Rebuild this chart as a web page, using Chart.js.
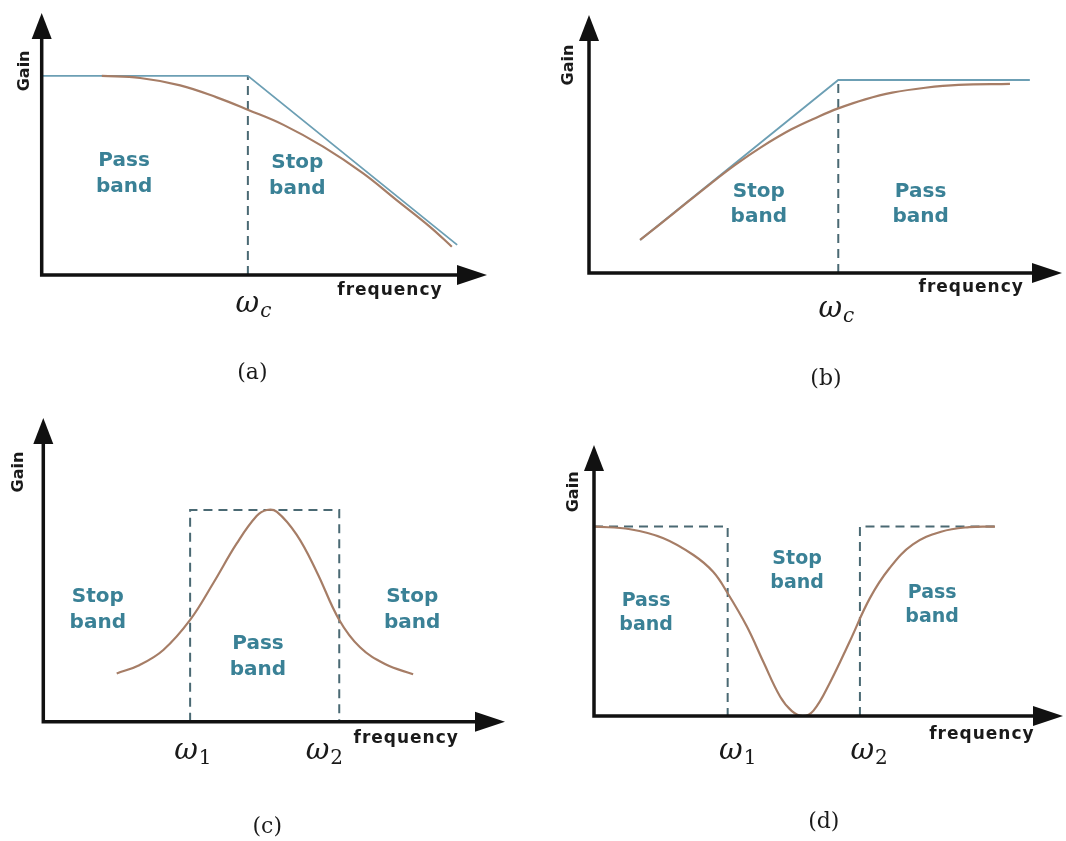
<!DOCTYPE html>
<html>
<head>
<meta charset="utf-8">
<title>Filter responses</title>
<script src="https://cdn.jsdelivr.net/npm/chart.js@4.4.1/dist/chart.umd.min.js"></script>
<style>
  html, body { margin: 0; padding: 0; background: #fff; }
  #wrap { position: relative; width: 1066px; height: 841px; overflow: hidden; }
  canvas { position: absolute; }
</style>
</head>
<body>
<div id="wrap">
  <canvas id="chartA" width="533" height="400" style="left:0;top:0"></canvas>
  <canvas id="chartB" width="533" height="400" style="left:533px;top:0"></canvas>
  <canvas id="chartC" width="533" height="441" style="left:0;top:400px"></canvas>
  <canvas id="chartD" width="533" height="441" style="left:533px;top:400px"></canvas>
</div>
<script>
// 値は横軸・縦軸とも「原点から矢印の先まで = 0〜100」として図から読み取ったもの

// (a) ローパス
var lowFreq = [13.5, 22.1, 31.1, 39.3, 46.4, 54.3, 63.2, 72.2, 79.7, 87.2, 92.1];
var lowGain = [76.0, 75.2, 72.4, 67.8, 63.0, 57.3, 49.0, 38.8, 28.6, 18.4, 10.8];
var lowAsymFreq = [0, 46.3, 93.3];
var lowAsymGain = [76.0, 76.0, 11.5];
var lowCutoff = 46.3;

// (b) ハイパス
var highFreq = [10.8, 18.2, 25.2, 30.9, 36.5, 42.8, 48.5, 52.7, 58.4, 64.1, 71.1, 78.1, 89.0];
var highGain = [12.8, 23.6, 33.9, 41.9, 48.9, 55.7, 60.6, 63.8, 67.3, 69.9, 71.8, 72.9, 73.3];
var highAsymFreq = [10.8, 52.7, 93.2];
var highAsymGain = [12.8, 74.8, 74.8];
var highCutoff = 52.7;

// (c) バンドパス
var bpFreq = [15.9, 20.9, 26.0, 31.8, 36.8, 41.9, 46.2, 48.4, 50.6, 54.9, 59.2, 64.1, 68.6, 74.0, 80.1];
var bpGain = [15.9, 18.7, 23.6, 33.5, 45.6, 58.7, 67.7, 69.7, 69.1, 61.5, 49.4, 33.5, 24.5, 19.0, 15.6];
var bpEdges = [31.8, 64.1];
var bpTop = 69.7;

// (d) バンドストップ
var bsFreq = [0.2, 7.7, 14.8, 21.2, 25.4, 28.5, 32.6, 36.1, 39.7, 42.2, 44.5, 46.8, 50.3, 54.6, 58.8, 63.0, 68.0, 74.0, 80.0, 85.5];
var bsGain = [69.9, 68.9, 65.6, 59.4, 53.2, 45.3, 33.0, 20.0, 7.1, 1.8, 0.0, 2.0, 12.3, 27.8, 43.4, 54.5, 63.3, 68.0, 69.7, 69.9];
var bsEdges = [28.5, 56.7];
var bsLevel = 69.9;
var bsEnd = 85.5;

var BROWN = '#a67d66';
var BLUE = '#6c9fb4';
var DASH = '#4a6973';
var TEAL = '#3a8196';

function pts(xs, ys) {
  var out = [];
  for (var i = 0; i < xs.length; i++) out.push({x: xs[i], y: ys[i]});
  return out;
}

function response(xs, ys) {
  return { data: pts(xs, ys), borderColor: BROWN, borderWidth: 2.2, tension: 0.4, clip: false };
}
function asymptote(xs, ys) {
  return { data: pts(xs, ys), borderColor: BLUE, borderWidth: 1.8, tension: 0, clip: false };
}
function dashed(xs, ys) {
  return { data: pts(xs, ys), borderColor: DASH, borderWidth: 2, borderDash: [9, 6], tension: 0, clip: false };
}

// 軸の矢印と文字を描くプラグイン
function notesPlugin(n) {
  return {
    id: 'notes',
    afterDatasetsDraw: function(chart) {
      var ctx = chart.ctx, a = chart.chartArea;
      var px = function(v) { return chart.scales.x.getPixelForValue(v); };
      var py = function(v) { return chart.scales.y.getPixelForValue(v); };
      ctx.save();

      // 軸
      ctx.strokeStyle = '#111';
      ctx.fillStyle = '#111';
      ctx.lineWidth = 3.5;
      ctx.beginPath();
      ctx.moveTo(a.left, a.top + 20);
      ctx.lineTo(a.left, a.bottom);
      ctx.lineTo(a.right - 20, a.bottom);
      ctx.stroke();
      ctx.beginPath();
      ctx.moveTo(a.left, a.top);
      ctx.lineTo(a.left - 10, a.top + 26);
      ctx.lineTo(a.left + 10, a.top + 26);
      ctx.closePath();
      ctx.fill();
      ctx.beginPath();
      ctx.moveTo(a.right, a.bottom);
      ctx.lineTo(a.right - 30, a.bottom - 10);
      ctx.lineTo(a.right - 30, a.bottom + 10);
      ctx.closePath();
      ctx.fill();

      // 帯域ラベル
      ctx.fillStyle = TEAL;
      ctx.font = 'bold ' + n.bandFont + 'px "DejaVu Sans"';
      ctx.textAlign = 'center';
      ctx.textBaseline = 'middle';
      n.bands.forEach(function(b) {
        var x = px(b.x), y = py(b.y);
        ctx.fillText(b.text[0], x, y - n.lineGap / 2);
        ctx.fillText(b.text[1], x, y + n.lineGap / 2);
      });

      // 軸タイトル
      ctx.fillStyle = '#1a1a1a';
      ctx.font = 'bold 17px "DejaVu Sans"';
      ctx.letterSpacing = '1px';
      ctx.fillText('frequency', px(n.freq.x), py(n.freq.y));
      ctx.letterSpacing = '0px';
      ctx.save();
      ctx.translate(px(n.gain.x), py(n.gain.y));
      ctx.rotate(-Math.PI / 2);
      ctx.font = 'bold 16px "DejaVu Sans"';
      ctx.fillText('Gain', 0, 0);
      ctx.restore();

      // ω ラベル
      ctx.textAlign = 'left';
      ctx.textBaseline = 'alphabetic';
      n.ticks.forEach(function(t) {
        ctx.font = 'italic 29px "DejaVu Serif"';
        var w = ctx.measureText(t.main).width;
        var x = px(t.x) - w / 2, base = py(t.y) + 7;
        ctx.fillText(t.main, x, base);
        ctx.font = (t.sub === 'c' ? 'italic ' : '') + '20px "DejaVu Serif"';
        ctx.fillText(t.sub, x + w + 1, base + 5);
      });

      // キャプション
      ctx.textAlign = 'center';
      ctx.textBaseline = 'middle';
      ctx.font = '22px "DejaVu Serif"';
      ctx.fillText(n.caption.text, px(n.caption.x), py(n.caption.y));
      ctx.restore();
    }
  };
}

function makeChart(id, pad, datasets, notes) {
  return new Chart(document.getElementById(id), {
    type: 'line',
    data: { datasets: datasets },
    options: {
      responsive: false,
      animation: false,
      layout: { padding: pad },
      plugins: { legend: { display: false }, tooltip: { enabled: false } },
      elements: { point: { radius: 0 } },
      scales: {
        x: { type: 'linear', min: 0, max: 100, display: false },
        y: { type: 'linear', min: 0, max: 100, display: false }
      }
    },
    plugins: [notesPlugin(notes)]
  });
}

makeChart('chartA', { left: 41.7, top: 13, right: 46, bottom: 125 }, [
  response(lowFreq, lowGain),
  asymptote(lowAsymFreq, lowAsymGain),
  dashed([lowCutoff, lowCutoff], [0, lowAsymGain[0]])
], {
  bandFont: 20, lineGap: 26,
  bands: [{ text: ['Pass', 'band'], x: 18.5, y: 38.5 }, { text: ['Stop', 'band'], x: 57.4, y: 38.0 }],
  freq: { x: 78.2, y: -6.1 },
  gain: { x: -3.75, y: 77.9 },
  ticks: [{ main: 'ω', sub: 'c', x: 46.2, y: -11.5 }],
  caption: { text: '(a)', x: 47.3, y: -37.4 }
});

makeChart('chartB', { left: 56, top: 15, right: 4, bottom: 127 }, [
  response(highFreq, highGain),
  asymptote(highAsymFreq, highAsymGain),
  dashed([highCutoff, highCutoff], [0, highAsymGain[1]])
], {
  bandFont: 20, lineGap: 25,
  bands: [{ text: ['Stop', 'band'], x: 35.9, y: 26.6 }, { text: ['Pass', 'band'], x: 70.1, y: 26.6 }],
  freq: { x: 80.8, y: -5.8 },
  gain: { x: -4.2, y: 80.6 },
  ticks: [{ main: 'ω', sub: 'c', x: 51.0, y: -14.3 }],
  caption: { text: '(b)', x: 50.1, y: -41.1 }
});

makeChart('chartC', { left: 43.3, top: 18, right: 28, bottom: 119.3 }, [
  response(bpFreq, bpGain),
  dashed([bpEdges[0], bpEdges[0], bpEdges[1], bpEdges[1]], [0, bpTop, bpTop, 0])
], {
  bandFont: 20, lineGap: 26,
  bands: [{ text: ['Stop', 'band'], x: 11.8, y: 36.8 }, { text: ['Pass', 'band'], x: 46.5, y: 21.5 }, { text: ['Stop', 'band'], x: 79.9, y: 36.8 }],
  freq: { x: 78.6, y: -5.7 },
  gain: { x: -5.3, y: 82.2 },
  ticks: [{ main: 'ω', sub: '1', x: 30.9, y: -10.0 }, { main: 'ω', sub: '2', x: 59.4, y: -10.0 }],
  caption: { text: '(c)', x: 48.5, y: -34.7 }
});

makeChart('chartD', { left: 61, top: 45, right: 3, bottom: 125 }, [
  response(bsFreq, bsGain),
  dashed([0, bsEdges[0], bsEdges[0]], [bsLevel, bsLevel, 0]),
  dashed([bsEdges[1], bsEdges[1], bsEnd], [0, bsLevel, bsLevel])
], {
  bandFont: 19, lineGap: 24,
  bands: [{ text: ['Pass', 'band'], x: 11.1, y: 38.0 }, { text: ['Stop', 'band'], x: 43.3, y: 53.5 }, { text: ['Pass', 'band'], x: 72.1, y: 40.8 }],
  freq: { x: 82.7, y: -7.0 },
  gain: { x: -4.3, y: 82.7 },
  ticks: [{ main: 'ω', sub: '1', x: 29.2, y: -13.3 }, { main: 'ω', sub: '2', x: 57.2, y: -13.3 }],
  caption: { text: '(d)', x: 49.0, y: -39.1 }
});
</script>
</body>
</html>
